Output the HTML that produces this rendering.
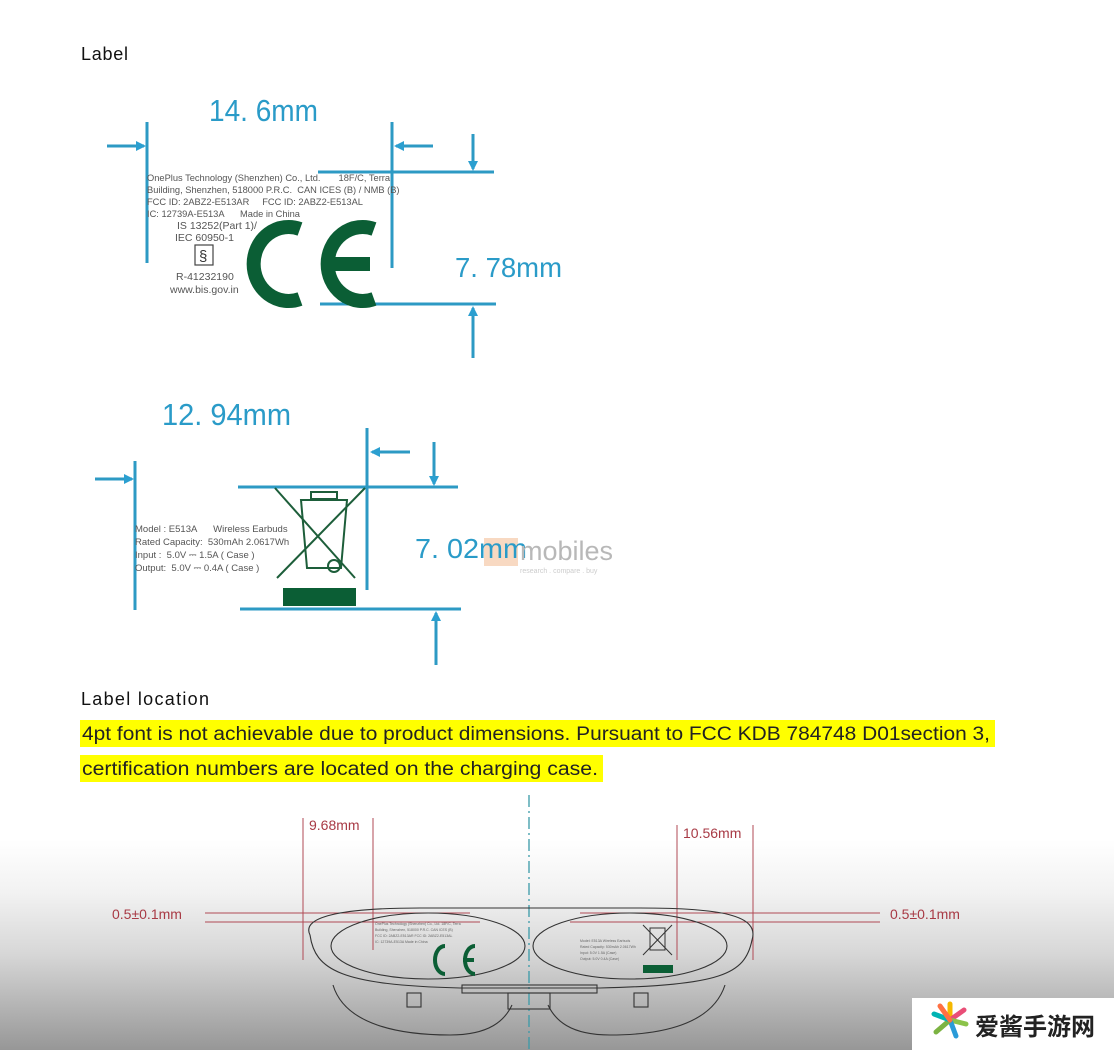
<!DOCTYPE html>
<html><head><meta charset="utf-8"><style>
html,body{margin:0;padding:0;background:#fff;}
body{width:1114px;height:1050px;overflow:hidden;position:relative;font-family:"Liberation Sans",sans-serif;}
</style></head><body>
<svg width="1114" height="1050" viewBox="0 0 1114 1050" xmlns="http://www.w3.org/2000/svg" style="position:absolute;left:0;top:0">
<defs>
<linearGradient id="bg" x1="0" y1="0" x2="0" y2="1">
<stop offset="0" stop-color="#ffffff"/>
<stop offset="0.25" stop-color="#f2f2f2"/>
<stop offset="0.55" stop-color="#d6d6d6"/>
<stop offset="1" stop-color="#979797"/>
</linearGradient>
<marker id="ah" markerWidth="10" markerHeight="10" refX="8" refY="5" orient="auto" markerUnits="userSpaceOnUse">
<path d="M0,0 L10,5 L0,10 z" fill="#2b9fd0"/>
</marker>
</defs>
<rect x="0" y="840" width="1114" height="210" fill="url(#bg)"/>

<!-- Section 1 -->
<text x="81" y="60" font-size="18" fill="#111" textLength="47">Label</text>
<text x="209" y="121" font-size="31" fill="#2a9bc8" textLength="109" lengthAdjust="spacingAndGlyphs">14. 6mm</text>
<g stroke="#2d9ac4" stroke-width="3" fill="none">
<line x1="147" y1="122" x2="147" y2="263"/>
<line x1="392" y1="122" x2="392" y2="268"/>
<line x1="318" y1="172" x2="494" y2="172"/>
<line x1="320" y1="304" x2="496" y2="304"/>
<line x1="107" y1="146" x2="144" y2="146" marker-end="url(#ah)"/>
<line x1="433" y1="146" x2="396" y2="146" marker-end="url(#ah)"/>
<line x1="473" y1="134" x2="473" y2="169" marker-end="url(#ah)"/>
<line x1="473" y1="358" x2="473" y2="308" marker-end="url(#ah)"/>
</g>
<text x="455" y="277" font-size="28" fill="#2a9bc8" textLength="107" lengthAdjust="spacingAndGlyphs">7. 78mm</text>
<g font-size="9.3" fill="#555">
<text x="147" y="181">OnePlus Technology (Shenzhen) Co., Ltd.&#160;&#160;&#160;&#160;&#160;&#160;&#160;18F/C, Terra</text>
<text x="147" y="193">Building, Shenzhen, 518000 P.R.C.&#160;&#160;CAN ICES (B) / NMB (B)</text>
<text x="147" y="205">FCC&#160;ID: 2ABZ2-E513AR&#160;&#160;&#160;&#160;&#160;FCC&#160;ID: 2ABZ2-E513AL</text>
<text x="147" y="217">IC: 12739A-E513A&#160;&#160;&#160;&#160;&#160;&#160;Made in China</text>
<text x="177" y="229" font-size="10.5">IS 13252(Part 1)/</text>
<text x="175" y="241" font-size="10.5">IEC 60950-1</text>
<text x="176" y="280" font-size="10.5">R-41232190</text>
<text x="170" y="293" font-size="10.5">www.bis.gov.in</text>
</g>
<rect x="195" y="245" width="18" height="20" fill="none" stroke="#444" stroke-width="1.2"/>
<text x="199" y="261" font-size="15" fill="#333">§</text>
<g stroke="#0b5e35" stroke-width="14" fill="none">
<path d="M300,229 A35,37 0 1 0 300,299"/>
<path d="M374,229 A35,37 0 1 0 374,299"/>
<line x1="333" y1="264" x2="370" y2="264"/>
</g>

<!-- Section 2 -->
<text x="162" y="425" font-size="31" fill="#2a9bc8" textLength="129" lengthAdjust="spacingAndGlyphs">12. 94mm</text>
<g stroke="#2d9ac4" stroke-width="3" fill="none">
<line x1="135" y1="461" x2="135" y2="610"/>
<line x1="367" y1="428" x2="367" y2="590"/>
<line x1="238" y1="487" x2="458" y2="487"/>
<line x1="240" y1="609" x2="461" y2="609"/>
<line x1="95" y1="479" x2="132" y2="479" marker-end="url(#ah)"/>
<line x1="410" y1="452" x2="372" y2="452" marker-end="url(#ah)"/>
<line x1="434" y1="442" x2="434" y2="484" marker-end="url(#ah)"/>
<line x1="436" y1="665" x2="436" y2="613" marker-end="url(#ah)"/>
</g>
<g stroke="#1d5e3a" stroke-width="2" fill="none">
<line x1="275" y1="488" x2="355" y2="578"/>
<line x1="365" y1="488" x2="277" y2="578"/>
<path d="M301,500 h46 l-6,68 h-34 z"/>
<rect x="311" y="492" width="26" height="7"/>
<circle cx="334" cy="566" r="6"/>
</g>
<g font-size="9.5" fill="#555">
<text x="135" y="532">Model : E513A&#160;&#160;&#160;&#160;&#160;&#160;Wireless Earbuds</text>
<text x="135" y="545">Rated Capacity:&#160;&#160;530mAh 2.0617Wh</text>
<text x="135" y="558">Input :&#160;&#160;5.0V ⎓ 1.5A ( Case )</text>
<text x="135" y="571">Output:&#160;&#160;5.0V ⎓ 0.4A ( Case )</text>
</g>
<rect x="283" y="588" width="73" height="18" fill="#0b5e35"/>
<rect x="484" y="538" width="34" height="28" fill="#f5c9a8" opacity="0.7"/>
<text x="415" y="558" font-size="28" fill="#2a9bc8" textLength="112" lengthAdjust="spacingAndGlyphs">7. 02mm</text>
<text x="520" y="560" font-size="27" fill="#b8b8b8">mobiles</text>
<text x="520" y="573" font-size="7" fill="#cccccc">research . compare . buy</text>

<!-- Label location -->
<text x="81" y="705" font-size="18" fill="#111" textLength="128">Label location</text>
<rect x="80" y="720" width="915" height="27" fill="#ffff00"/>
<rect x="80" y="755" width="523" height="27" fill="#ffff00"/>
<text x="82" y="740" font-size="19" fill="#222" textLength="908" lengthAdjust="spacingAndGlyphs">4pt font is not achievable due to product dimensions. Pursuant to FCC KDB 784748 D01section 3,</text>
<text x="82" y="775" font-size="19" fill="#222" textLength="516" lengthAdjust="spacingAndGlyphs">certification numbers are located on the charging case.</text>

<!-- Bottom drawing -->
<line x1="529" y1="795" x2="529" y2="1050" stroke="#3a9aa8" stroke-width="1.3" stroke-dasharray="12,4,2,4"/>
<g stroke="#b04a55" stroke-width="1" fill="none">
<line x1="303" y1="818" x2="303" y2="960"/>
<line x1="373" y1="818" x2="373" y2="950"/>
<line x1="677" y1="825" x2="677" y2="960"/>
<line x1="753" y1="825" x2="753" y2="960"/>
<line x1="205" y1="913" x2="470" y2="913"/>
<line x1="205" y1="922" x2="480" y2="922"/>
<line x1="580" y1="913" x2="880" y2="913"/>
<line x1="570" y1="922" x2="880" y2="922"/>
</g>
<g font-size="14" fill="#a83a45">
<text x="309" y="830">9.68mm</text>
<text x="683" y="838">10.56mm</text>
<text x="112" y="919">0.5±0.1mm</text>
<text x="890" y="919">0.5±0.1mm</text>
</g>
<g stroke="#333" stroke-width="1.1" fill="none">
<path d="M310,935 C300,915 350,908 420,908 L640,908 C720,908 760,915 752,940 C745,975 720,985 600,988 L460,988 C340,985 315,970 310,935 z"/>
<ellipse cx="428" cy="946" rx="97" ry="33"/>
<ellipse cx="630" cy="946" rx="97" ry="33"/>
<path d="M333,985 C345,1025 400,1035 450,1035 C490,1035 505,1020 512,1005"/>
<path d="M725,985 C712,1025 660,1035 610,1035 C570,1035 555,1020 548,1005"/>
<rect x="462" y="985" width="135" height="8"/>
<rect x="508" y="993" width="42" height="16"/>
<rect x="407" y="993" width="14" height="14"/>
<rect x="634" y="993" width="14" height="14"/>
</g>
<g font-size="3.5" fill="#666">
<text x="375" y="925">OnePlus Technology (Shenzhen) Co., Ltd. 18F/C, Terra</text>
<text x="375" y="931">Building, Shenzhen, 518000 P.R.C. CAN ICES (B)</text>
<text x="375" y="937">FCC ID: 2ABZ2-E513AR FCC ID: 2ABZ2-E513AL</text>
<text x="375" y="943">IC: 12739A-E513A Made in China</text>
<text x="580" y="942">Model: E513A Wireless Earbuds</text>
<text x="580" y="948">Rated Capacity: 530mAh 2.0617Wh</text>
<text x="580" y="954">Input: 5.0V 1.5A (Case)</text>
<text x="580" y="960">Output: 5.0V 0.4A (Case)</text>
</g>
<g stroke="#0b5e35" stroke-width="4" fill="none">
<path d="M445,946 A10,14 0 1 0 445,974"/>
<path d="M475,946 A10,14 0 1 0 475,974"/>
<line x1="463" y1="960" x2="474" y2="960"/>
</g>
<g stroke="#333" stroke-width="1" fill="none">
<line x1="643" y1="925" x2="672" y2="955"/>
<line x1="672" y1="925" x2="643" y2="955"/>
<rect x="650" y="928" width="15" height="22"/>
</g>
<rect x="643" y="965" width="30" height="8" fill="#0b5e35"/>

<!-- watermark -->
<rect x="912" y="998" width="202" height="52" fill="#ffffff"/>
<g stroke-width="5" stroke-linecap="round">
<line x1="950" y1="1020" x2="950" y2="1004" stroke="#f5b800"/>
<line x1="950" y1="1020" x2="964" y2="1010" stroke="#e94e77"/>
<line x1="950" y1="1020" x2="966" y2="1024" stroke="#8bc34a"/>
<line x1="950" y1="1020" x2="956" y2="1036" stroke="#2a9bd8"/>
<line x1="950" y1="1020" x2="936" y2="1032" stroke="#7cb342"/>
<line x1="950" y1="1020" x2="934" y2="1014" stroke="#00b3b3"/>
<line x1="950" y1="1020" x2="940" y2="1006" stroke="#ff7043"/>
</g>
<text x="975" y="1035" font-size="24" font-weight="bold" fill="#222" font-family="'Liberation Sans','Noto Sans CJK SC',sans-serif">爱酱手游网</text>
</svg>
</body></html>
